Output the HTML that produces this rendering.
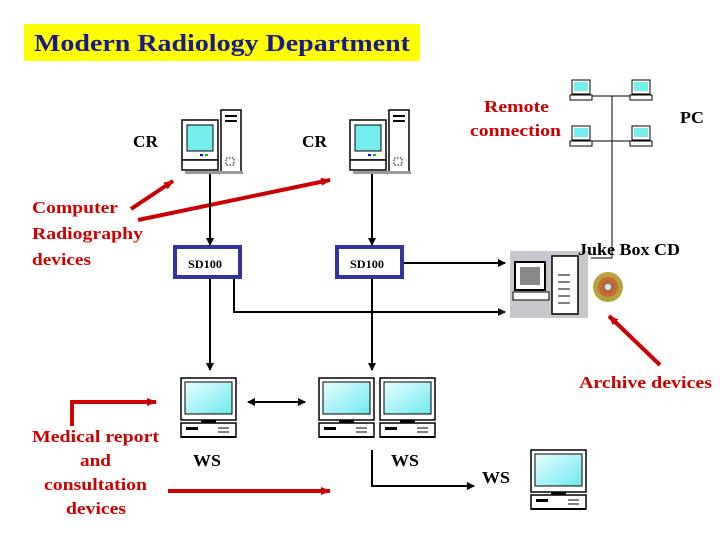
<!DOCTYPE html>
<html><head><meta charset="utf-8"><style>
html,body{margin:0;padding:0;background:#fff;}
svg{display:block;font-family:"Liberation Serif",serif;font-weight:bold;}
</style></head><body>
<svg width="720" height="540" viewBox="0 0 720 540" xmlns="http://www.w3.org/2000/svg">
<defs>
<marker id="ab" markerWidth="8" markerHeight="8" refX="7" refY="4" orient="auto" markerUnits="userSpaceOnUse"><path d="M0,0 L8,4 L0,8 z" fill="#000"/></marker>
<marker id="ar" markerWidth="10" markerHeight="10" refX="9" refY="5" orient="auto" markerUnits="userSpaceOnUse"><path d="M0,1 L10,5 L0,9 z" fill="#c00"/></marker>
<marker id="abs" markerWidth="8" markerHeight="8" refX="1" refY="4" orient="auto" markerUnits="userSpaceOnUse"><path d="M8,0 L0,4 L8,8 z" fill="#000"/></marker>
<linearGradient id="sc" x1="0" y1="0" x2="1" y2="1"><stop offset="0" stop-color="#e8ffff"/><stop offset="1" stop-color="#6ee8ee"/></linearGradient>
<g id="cr">
 <rect x="0" y="10" width="36" height="40" fill="#fff" stroke="#000" stroke-width="1.5"/>
 <rect x="5" y="15" width="26" height="26" fill="#7ee" stroke="#000"/>
 <rect x="18" y="44" width="3" height="2" fill="#00f"/><rect x="23" y="44" width="3" height="2" fill="#0c0"/>
 <rect x="0" y="50" width="36" height="10" fill="#fff" stroke="#000" stroke-width="1.5"/>
 <rect x="39" y="0" width="20" height="62" fill="#fff" stroke="#000" stroke-width="1.5"/>
 <rect x="43" y="5" width="12" height="2" fill="#000"/><rect x="43" y="10" width="12" height="2" fill="#000"/>
 <rect x="44" y="48" width="8" height="7" fill="none" stroke="#000" stroke-dasharray="1.5,1.5"/>
 <rect x="3" y="61" width="58" height="3" fill="#999"/>
</g>
<g id="ws">
 <rect x="0" y="0" width="55" height="42" fill="#fff" stroke="#000" stroke-width="1.5"/>
 <rect x="4" y="4" width="47" height="32" fill="url(#sc)" stroke="#000"/>
 <rect x="20" y="42" width="15" height="3" fill="#000"/>
 <rect x="0" y="45" width="55" height="14" fill="#fff" stroke="#000" stroke-width="1.5"/>
 <rect x="5" y="49" width="12" height="3" fill="#000"/>
 <line x1="37" y1="50" x2="48" y2="50" stroke="#000"/><line x1="37" y1="54" x2="48" y2="54" stroke="#000"/>
 <rect x="0" y="58" width="55" height="2" fill="#000"/>
</g>
<g id="pc">
 <rect x="0" y="0" width="18" height="14" fill="#fff" stroke="#000"/>
 <rect x="2" y="2" width="14" height="9" fill="#7ee"/>
 <rect x="-2" y="15" width="22" height="5" fill="#fff" stroke="#000"/>
</g>
</defs>

<rect x="24" y="24" width="396" height="37" fill="#ffff00"/>
<text x="34" y="51" font-size="24" fill="#1a1a8c" textLength="376" lengthAdjust="spacingAndGlyphs">Modern Radiology Department</text>

<text x="133" y="147" font-size="17" textLength="25" lengthAdjust="spacingAndGlyphs">CR</text>
<text x="302" y="147" font-size="17" textLength="25" lengthAdjust="spacingAndGlyphs">CR</text>
<use href="#cr" x="182" y="110"/>
<use href="#cr" x="350" y="110"/>

<g fill="#c00" font-size="17">
<text x="32" y="213" textLength="86" lengthAdjust="spacingAndGlyphs">Computer</text>
<text x="32" y="239" textLength="111" lengthAdjust="spacingAndGlyphs">Radiography</text>
<text x="32" y="265" textLength="59" lengthAdjust="spacingAndGlyphs">devices</text>
<text x="32" y="442" textLength="127" lengthAdjust="spacingAndGlyphs">Medical report</text>
<text x="80" y="466" textLength="31" lengthAdjust="spacingAndGlyphs">and</text>
<text x="44" y="490" textLength="103" lengthAdjust="spacingAndGlyphs">consultation</text>
<text x="66" y="514" textLength="60" lengthAdjust="spacingAndGlyphs">devices</text>
<text x="484" y="112" textLength="65" lengthAdjust="spacingAndGlyphs">Remote</text>
<text x="470" y="136" textLength="91" lengthAdjust="spacingAndGlyphs">connection</text>
<text x="579" y="388" textLength="133" lengthAdjust="spacingAndGlyphs">Archive devices</text>
</g>

<g stroke="#c00" stroke-width="4" fill="none">
<line x1="131" y1="209" x2="173" y2="181" marker-end="url(#ar)"/>
<line x1="138" y1="220" x2="330" y2="180" marker-end="url(#ar)"/>
<polyline points="72,426 72,402 156,402" marker-end="url(#ar)"/>
<line x1="168" y1="491" x2="330" y2="491" marker-end="url(#ar)"/>
<line x1="660" y1="365" x2="609" y2="316" marker-end="url(#ar)"/>
</g>

<g stroke="#000" stroke-width="2" fill="none">
<line x1="210" y1="174" x2="210" y2="245" marker-end="url(#ab)"/>
<line x1="372" y1="174" x2="372" y2="245" marker-end="url(#ab)"/>
<line x1="210" y1="278" x2="210" y2="370" marker-end="url(#ab)"/>
<line x1="372" y1="278" x2="372" y2="370" marker-end="url(#ab)"/>
<polyline points="234,278 234,312 505,312" marker-end="url(#ab)"/>
<line x1="403" y1="263" x2="505" y2="263" marker-end="url(#ab)"/>
<line x1="248" y1="402" x2="305" y2="402" marker-end="url(#ab)" marker-start="url(#abs)"/>
<polyline points="372,450 372,486 474,486" marker-end="url(#ab)"/>
</g>

<g>
<rect x="175" y="247" width="65" height="30" fill="#fff" stroke="#3434a0" stroke-width="4"/>
<text x="188" y="268" font-size="12" textLength="34" lengthAdjust="spacingAndGlyphs">SD100</text>
<rect x="337" y="247" width="65" height="30" fill="#fff" stroke="#3434a0" stroke-width="4"/>
<text x="350" y="268" font-size="12" textLength="34" lengthAdjust="spacingAndGlyphs">SD100</text>
</g>

<g stroke="#000" stroke-width="1" fill="none">
<line x1="612" y1="96" x2="612" y2="258"/>
<line x1="591" y1="258" x2="612" y2="258"/>
<line x1="592" y1="96" x2="632" y2="96"/>
<line x1="592" y1="141" x2="632" y2="141"/>
</g>
<use href="#pc" x="572" y="80"/>
<use href="#pc" x="632" y="80"/>
<use href="#pc" x="572" y="126"/>
<use href="#pc" x="632" y="126"/>
<text x="680" y="123" font-size="17" textLength="24" lengthAdjust="spacingAndGlyphs">PC</text>

<rect x="510" y="251" width="78" height="67" fill="#c8c8cc"/>
<rect x="515" y="262" width="30" height="28" fill="#fff" stroke="#000" stroke-width="2"/>
<rect x="520" y="267" width="20" height="18" fill="#888"/>
<rect x="513" y="292" width="36" height="8" fill="#fff" stroke="#000"/>
<rect x="552" y="256" width="26" height="58" fill="#fff" stroke="#000" stroke-width="1.5"/>
<g stroke="#000"><line x1="558" y1="275" x2="570" y2="275"/><line x1="558" y1="282" x2="570" y2="282"/><line x1="558" y1="289" x2="570" y2="289"/><line x1="558" y1="296" x2="570" y2="296"/><line x1="558" y1="303" x2="570" y2="303"/></g>
<circle cx="608" cy="287" r="15" fill="#b8a040"/>
<circle cx="608" cy="287" r="10" fill="#c86a30"/>
<circle cx="608" cy="287" r="4" fill="#ddd" stroke="#555"/>
<text x="578" y="255" font-size="17" textLength="102" lengthAdjust="spacingAndGlyphs">Juke Box CD</text>

<use href="#ws" x="181" y="378"/>
<use href="#ws" x="319" y="378"/>
<use href="#ws" x="380" y="378"/>
<use href="#ws" x="531" y="450"/>
<text x="193" y="466" font-size="17" textLength="28" lengthAdjust="spacingAndGlyphs">WS</text>
<text x="391" y="466" font-size="17" textLength="28" lengthAdjust="spacingAndGlyphs">WS</text>
<text x="482" y="483" font-size="17" textLength="28" lengthAdjust="spacingAndGlyphs">WS</text>
</svg>
</body></html>
